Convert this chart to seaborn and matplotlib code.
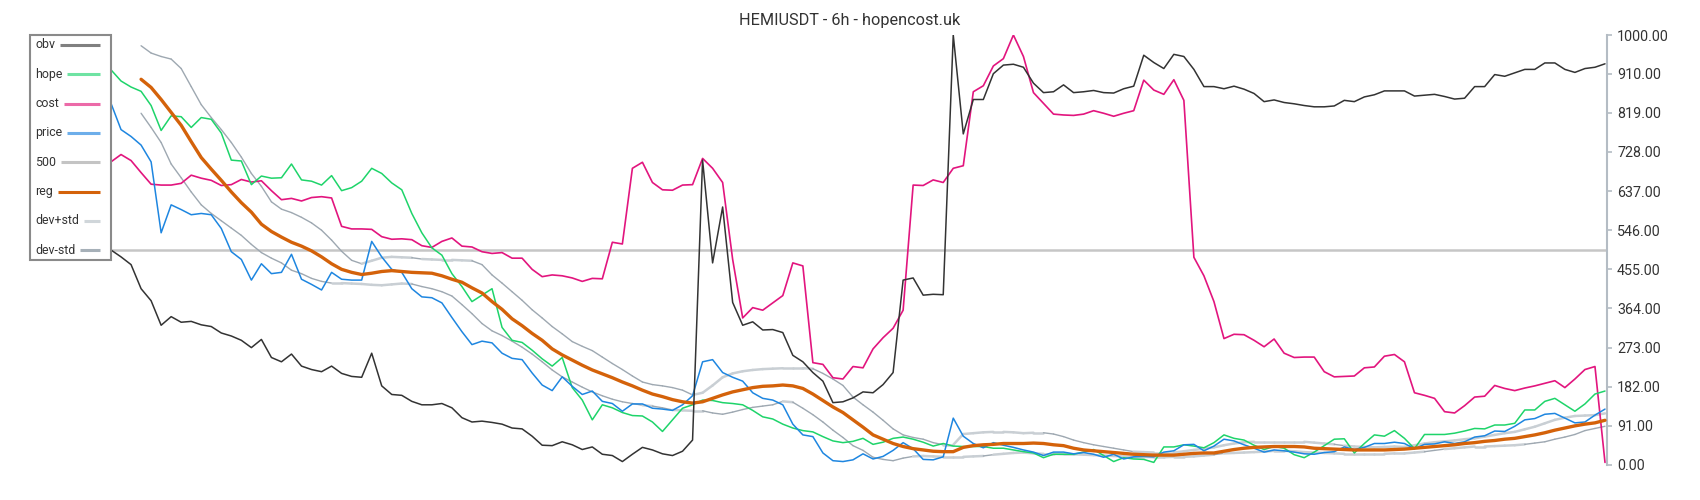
import matplotlib
matplotlib.use("Agg")
import matplotlib.pyplot as plt
from matplotlib.collections import LineCollection
from matplotlib.lines import Line2D
from matplotlib.patches import Rectangle
import numpy as np
import pandas as pd
import seaborn as sns

nan = np.nan

obv = [500, 484, 466, 410, 382, 325, 345, 332, 334, 326,
       322, 307, 300, 290, 273, 292, 250, 240, 258, 230,
       222, 217, 230, 213, 206, 204, 260, 184, 164, 162,
       148, 140, 140, 143, 133, 110, 100, 102, 99, 95,
       86, 84, 67, 46, 45, 54, 47, 36, 42, 25,
       22, 8, 25, 41, 35, 26, 22, 32, 58, 709,
       470, 600, 378, 325, 333, 314, 315, 308, 255, 240,
       215, 195, 145, 147, 156, 170, 168, 187, 215, 430,
       435, 395, 397, 396, 1000, 770, 850, 850, 910, 930,
       932, 925, 888, 866, 868, 884, 866, 868, 871, 866,
       865, 875, 881, 953, 936, 922, 955, 950, 920, 880,
       880, 875, 881, 874, 864, 845, 849, 843, 840, 836,
       833, 833, 835, 848, 845, 856, 861, 870, 870, 870,
       858, 860, 862, 857, 851, 853, 880, 880, 908, 904,
       912, 920, 920, 935, 935, 920, 913, 922, 925, 933]

hope = [919, 893, 879, 869, 836, 778, 812, 810, 785, 808,
        804, 772, 709, 707, 652, 672, 667, 668, 700, 663,
        660, 651, 673, 638, 645, 660, 690, 678, 656, 640,
        585, 540, 505, 488, 445, 415, 380, 395, 410, 320,
        290, 285, 267, 247, 230, 250, 180, 151, 105, 140,
        133, 122, 115, 114, 100, 78, 105, 132, 140, 151,
        150, 145, 143, 140, 127, 112, 107, 95, 86, 80,
        77, 66, 56, 52, 55, 62, 48, 53, 62, 65,
        60, 53, 44, 50, 44, 43, 43, 43, 39, 39,
        35, 31, 28, 17, 25, 25, 25, 30, 36, 22,
        8, 17, 14, 13, 6, 42, 42, 47, 44, 40,
        52, 70, 62, 58, 46, 36, 43, 39, 24, 17,
        30, 45, 60, 61, 28, 50, 70, 67, 80, 62,
        38, 71, 71, 71, 74, 79, 85, 84, 93, 93,
        97, 128, 128, 148, 155, 140, 125, 142, 165, 172]

cost = [705, 722, 708, 680, 653, 651, 651, 655, 674, 667,
        662, 650, 652, 664, 658, 661, 638, 617, 620, 614,
        622, 624, 621, 555, 549, 549, 548, 531, 525, 526,
        524, 510, 506, 520, 528, 509, 507, 496, 492, 494,
        481, 481, 455, 438, 442, 440, 435, 427, 434, 433,
        518, 514, 690, 704, 657, 640, 639, 651, 652, 713,
        690, 657, 478, 342, 366, 360, 377, 394, 470, 463,
        238, 234, 203, 200, 229, 226, 270, 296, 318, 360,
        651, 650, 663, 657, 690, 696, 868, 882, 928, 945,
        1000, 950, 866, 841, 816, 814, 813, 816, 824, 818,
        811, 818, 824, 895, 872, 862, 896, 848, 483, 440,
        380, 294, 304, 303, 290, 275, 293, 260, 250, 251,
        251, 217, 205, 206, 207, 226, 228, 253, 257, 240,
        168, 162, 155, 124, 121, 138, 158, 160, 185, 178,
        173, 179, 184, 190, 196, 180, 200, 222, 229, 6]

price = [841, 780, 764, 744, 705, 540, 605, 594, 582, 585,
         582, 550, 496, 478, 430, 468, 445, 448, 490, 432,
         420, 407, 448, 432, 430, 430, 520, 484, 455, 448,
         410, 391, 389, 377, 343, 310, 280, 288, 284, 260,
         248, 245, 214, 186, 173, 205, 183, 164, 172, 148,
         143, 125, 142, 142, 132, 130, 127, 140, 161, 240,
         245, 215, 204, 195, 168, 155, 151, 140, 95, 70,
         66, 28, 10, 8, 12, 26, 14, 20, 34, 52,
         38, 13, 12, 19, 109, 67, 50, 40, 52, 46,
         41, 35, 30, 22, 30, 30, 26, 29, 25, 18,
         25, 14, 19, 20, 19, 30, 33, 47, 48, 33,
         44, 60, 56, 47, 39, 30, 35, 33, 30, 26,
         25, 29, 31, 42, 36, 41, 50, 50, 53, 50,
         38, 48, 49, 54, 50, 54, 65, 68, 79, 78,
         90, 105, 108, 118, 120, 109, 98, 100, 116, 130]

reg = [nan, nan, nan, 897, 878, 850, 820, 790, 752, 715,
       688, 662, 635, 610, 588, 560, 543, 530, 518, 509,
       498, 484, 468, 455, 448, 443, 446, 450, 452, 450,
       448, 447, 446, 440, 432, 425, 412, 400, 380, 362,
       340, 324, 306, 290, 270, 256, 244, 232, 221, 212,
       203, 193, 184, 174, 165, 159, 152, 147, 144, 147,
       155, 163, 170, 175, 180, 183, 184, 186, 184, 178,
       165, 150, 135, 122, 105, 88, 70, 60, 50, 43,
       38, 35, 32, 31, 31, 41, 45, 47, 48, 50,
       50, 50, 51, 50, 47, 45, 39, 35, 33, 31,
       29, 27, 25, 24, 23, 23, 23, 25, 27, 28,
       28, 32, 36, 39, 41, 42, 43, 43, 43, 42,
       39, 38, 37, 36, 35, 35, 35, 35, 36, 37,
       39, 41, 43, 45, 47, 50, 52, 55, 57, 60,
       62, 66, 70, 75, 81, 86, 91, 95, 98, 104]

dev_plus = [nan, nan, nan, 975, 958, 950, 944, 922, 880, 838,
            808, 780, 750, 716, 678, 648, 612, 595, 587, 576,
            563, 546, 523, 497, 476, 468, 475, 482, 484, 483,
            482, 479, 478, 477, 477, 476, 475, 466, 442, 423,
            403, 383, 361, 342, 322, 305, 287, 276, 266, 251,
            236, 222, 207, 193, 187, 184, 180, 174, 163, 168,
            185, 204, 213, 218, 221, 223, 224, 225, 225, 225,
            224, 213, 200, 185, 158, 140, 123, 104, 84, 70,
            64, 60, 52, 47, 47, 72, 74, 76, 77, 77,
            76, 74, 75, 75, 72, 66, 58, 52, 47, 43,
            39, 35, 31, 30, 29, 29, 29, 32, 35, 38,
            41, 46, 50, 53, 54, 54, 54, 54, 54, 54,
            52, 50, 48, 45, 43, 42, 41, 42, 43, 42,
            46, 50, 53, 55, 57, 60, 62, 66, 70, 74,
            77, 83, 89, 97, 105, 110, 114, 115, 116, 120]

dev_minus = [nan, nan, nan, 818, 785, 750, 700, 668, 635, 605,
             585, 568, 551, 534, 513, 494, 481, 470, 453, 445,
             434, 427, 423, 423, 422, 421, 419, 418, 420, 422,
             421, 415, 410, 403, 393, 373, 352, 329, 312, 301,
             288, 274, 258, 240, 221, 205, 193, 181, 170, 161,
             153, 147, 143, 139, 137, 133, 128, 127, 126, 126,
             121, 118, 123, 129, 134, 137, 140, 148, 146, 132,
             117, 100, 81, 64, 45, 34, 18, 13, 10, 16,
             20, 21, 20, 19, 19, 19, 20, 21, 24, 26,
             28, 29, 27, 26, 26, 25, 25, 24, 23, 22,
             21, 20, 19, 19, 18, 18, 19, 19, 20, 22,
             24, 27, 28, 29, 30, 31, 33, 33, 32, 30,
             29, 28, 27, 26, 26, 26, 26, 26, 27, 27,
             29, 31, 34, 37, 39, 41, 43, 43, 44, 45,
             46, 48, 51, 54, 60, 65, 71, 80, 85, 90]

level = 500
ticks = [0, 91, 182, 273, 364, 455, 546, 637, 728, 819, 910, 1000]
title = "HEMIUSDT - 6h - hopencost.uk"

df = pd.DataFrame({"obv": obv, "hope": hope, "cost": cost, "price": price,
                   "reg": reg, "dev+std": dev_plus, "dev-std": dev_minus})
df["t"] = np.arange(len(df))

LIGHT = "#c9cfd4"
DARK = "#9ea8b1"

sns.set_style("white")
plt.rcParams["font.family"] = ["Roboto", "DejaVu Sans"]

fig = plt.figure(figsize=(17, 5), dpi=100)
ax = fig.add_axes([111 / 1700, 0.07, 1496 / 1700, 0.86])


def band(col, flat_only, tol=2.0):
    # falling pieces thin and dark, the rest light and thicker
    v = df[col].to_numpy(float)
    t = df["t"].to_numpy(float)
    segs, colors, widths = [], [], []
    for k in range(len(v) - 1):
        if np.isnan(v[k]) or np.isnan(v[k + 1]):
            continue
        d = v[k + 1] - v[k]
        dark = abs(d) > tol if flat_only else d < -tol
        segs.append([(t[k], v[k]), (t[k + 1], v[k + 1])])
        colors.append(DARK if dark else LIGHT)
        widths.append(1.0 if dark else 1.8)
    ax.add_collection(LineCollection(segs, colors=colors, linewidths=widths,
                                     capstyle="round", zorder=2))


band("dev+std", flat_only=False)
band("dev-std", flat_only=True)

ax.axhline(level, color="#c6c6c6", linewidth=1.8, zorder=1)

# name, colour, width, zorder
styles = [
    ("cost", "#e2157e", 1.2, 3),
    ("hope", "#1ed46a", 1.1, 3),
    ("price", "#1e86e0", 1.1, 4),
    ("reg", "#d4620a", 2.4, 5),
    ("obv", "#333333", 1.1, 6),
]
for name, color, lw, z in styles:
    sns.lineplot(data=df, x="t", y=name, color=color, linewidth=lw, ax=ax,
                 zorder=z, legend=False)

ax.set_xlim(0, 149.2)
ax.set_ylim(0, 1000)
ax.set_xlabel("")
ax.set_ylabel("")
ax.set_xticks([])
ax.yaxis.tick_right()
ax.set_yticks(ticks)
ax.set_yticklabels([f"{t:.2f}" for t in ticks])
ax.tick_params(axis="y", right=True, left=False, length=3.6, width=1.2,
               color="#b4bcc4", labelsize=10.3, labelcolor="#333333", pad=3.6)
for s in ["left", "top", "bottom"]:
    ax.spines[s].set_visible(False)
ax.spines["right"].set_color("#b4bcc4")
ax.spines["right"].set_linewidth(1.5)

# legend box: text on the left, sample line running to the right edge
legend_items = [("obv", "#808080"), ("hope", "#6fe3a3"), ("cost", "#ec6aa8"),
                ("price", "#6daeea"), ("500", "#c4c4c4"), ("reg", "#d4620a"),
                ("dev+std", "#d0d6da"), ("dev-std", "#a6b0b8")]
W, H = 1700, 500
fig.add_artist(Rectangle((30 / W, 1 - 260 / H), 81 / W, 225 / H, transform=fig.transFigure,
                         facecolor="white", edgecolor="#8a8a8a", linewidth=1.5, zorder=10))
fig.canvas.draw()
renderer = fig.canvas.get_renderer()
for k, (label, color) in enumerate(legend_items):
    yc = 45 + 29.3 * k
    txt = fig.text(35 / W, 1 - yc / H, label, ha="left", va="center", fontsize=8.9,
                   color="#333333", zorder=11)
    x1 = txt.get_window_extent(renderer).x1
    fig.add_artist(Line2D([(x1 + 5) / W, 100 / W], [1 - yc / H, 1 - yc / H],
                          transform=fig.transFigure, color=color, linewidth=2.2,
                          solid_capstyle="butt", zorder=11))

fig.text(0.5, 1 - 20.5 / H, title, ha="center", va="center", fontsize=11.7, color="#333333")

fig.savefig("out.png", dpi=100)
